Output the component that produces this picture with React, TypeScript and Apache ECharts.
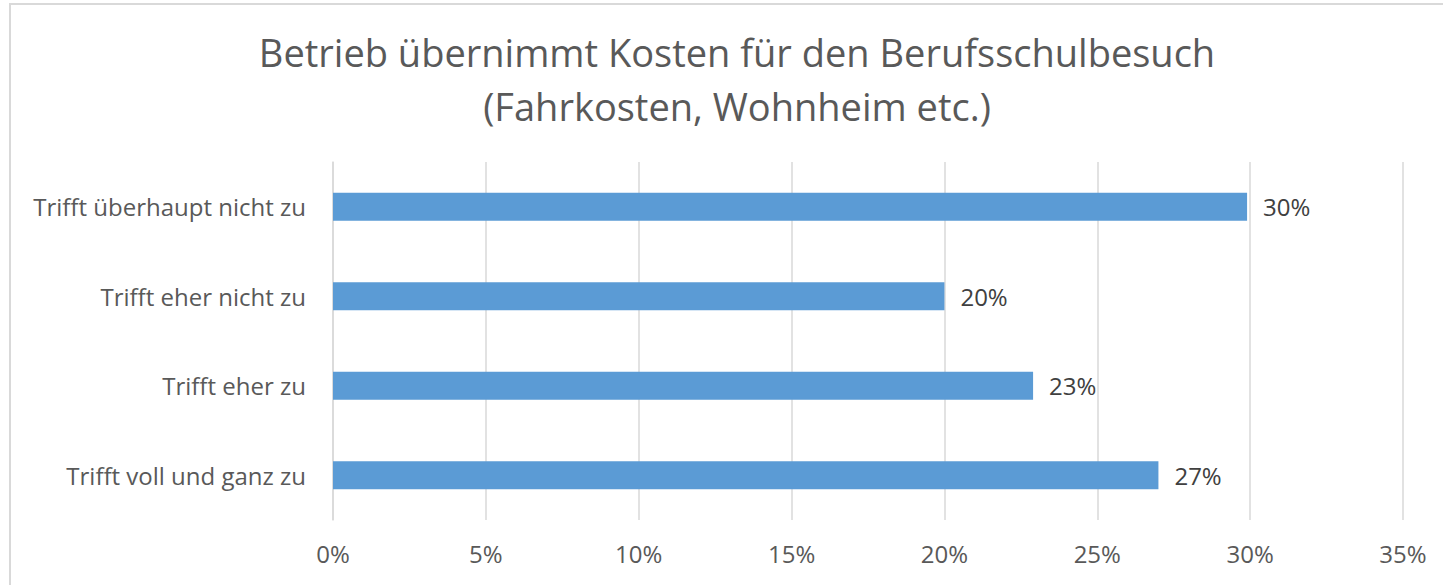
import React, { useEffect, useRef } from "react";
import * as echarts from "echarts";

const titleLines = ["Betrieb übernimmt Kosten für den Berufsschulbesuch", "(Fahrkosten, Wohnheim etc.)"];
const categories = ["Trifft voll und ganz zu", "Trifft eher zu", "Trifft eher nicht zu", "Trifft überhaupt nicht zu"];
const values = [27.0, 22.9, 20.0, 29.9];
const xMin = 0;
const xMax = 35;
const xInterval = 5;

export default function App() {
  const ref = useRef<HTMLDivElement>(null);
  useEffect(() => {
    if (!ref.current) return;
    const chart = echarts.init(ref.current, null, { renderer: "svg" });
    const font = "'Open Sans', 'Noto Sans', sans-serif";
    chart.setOption({
      animation: false,
      textStyle: { fontFamily: font },
      graphic: [
        {
          type: "rect",
          shape: { x: 10, y: 4, width: 1600, height: 800 },
          style: { fill: "none", stroke: "#d9d9d9", lineWidth: 2 },
          silent: true,
        },
      ],
      title: {
        text: titleLines.join("\n"),
        left: 732,
        textAlign: "center",
        top: 20,
        textStyle: { fontFamily: font, fontSize: 38, fontWeight: "normal", color: "#595959", lineHeight: 54 },
      },
      grid: { left: 333, right: 40, top: 162, bottom: 65, containLabel: false },
      xAxis: {
        type: "value",
        min: xMin,
        max: xMax,
        interval: xInterval,
        axisLine: { show: false },
        axisTick: { show: false },
        splitLine: { show: true, lineStyle: { color: "#d9d9d9", width: 1.5 } },
        axisLabel: { formatter: (v: number) => v + "%", color: "#595959", fontSize: 24, margin: 21, fontFamily: font },
      },
      yAxis: {
        type: "category",
        data: categories,
        axisLine: { show: true, lineStyle: { color: "#d9d9d9", width: 1.5 } },
        axisTick: { show: false },
        axisLabel: { color: "#595959", fontSize: 24, margin: 27, fontFamily: font },
      },
      series: [
        {
          type: "bar",
          data: values,
          barWidth: 28,
          itemStyle: { color: "#5b9bd5" },
          label: {
            show: true,
            position: "right",
            distance: 16,
            formatter: (p: any) => Math.round(p.value) + "%",
            color: "#404040",
            fontSize: 24,
            fontFamily: font,
          },
        },
      ],
    });
    return () => chart.dispose();
  }, []);
  return (
    <div style={{ position: "absolute", left: 0, top: 0, width: 1443, height: 585, background: "#fff" }}>
      <div ref={ref} style={{ width: 1443, height: 585 }} />
    </div>
  );
}
